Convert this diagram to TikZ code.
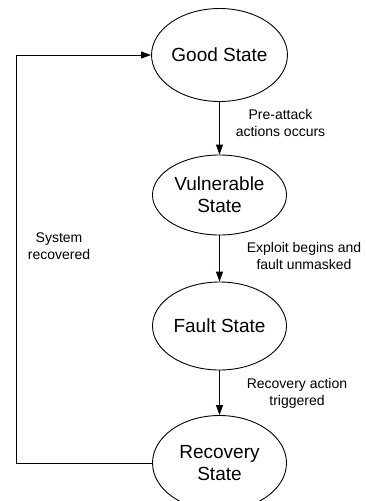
\documentclass[tikz,border=0pt]{standalone}
\usepackage{fontspec}
\setmainfont{Liberation Sans}
\usetikzlibrary{shapes.geometric,arrows.meta}
\begin{document}
\begin{tikzpicture}[x=1pt,y=-1pt,
  statebox/.style={draw, ellipse, line width=0.9pt, inner sep=0pt,
    minimum width=134pt, align=center,
    font=\fontsize{19pt}{22pt}\selectfont},
  lbl/.style={align=center, font=\fontsize{14pt}{17pt}\selectfont},
  arr/.style={line width=0.9pt, -{Triangle[length=10pt,width=7pt]}}]
\clip (0,0) rectangle (367,501);
\fill[white] (0,0) rectangle (367,501);
\node[statebox, minimum height=93pt] (good) at (219.5,55) {Good State};
\node[statebox, minimum height=80pt] (vul) at (219.5,195) {Vulnerable\\State};
\node[statebox, minimum height=88pt] (fault) at (219.5,326) {Fault State};
\node[statebox, minimum height=95pt] (rec) at (219.5,463) {Recovery\\State};
\coordinate (cl) at (16,463);
\draw[arr] (good) -- (vul);
\draw[arr] (vul) -- (fault);
\draw[arr] (fault) -- (rec);
\draw[arr] (rec.west) -- (cl) |- (good.west);
\node[lbl] (l1) at (280.5,123) {Pre-attack\\actions occurs};
\node[lbl] (l2) at (304,256) {Exploit begins and\\fault unmasked};
\node[lbl] (l3) at (297,393.5) {Recovery action\\triggered};
\node[lbl] (l4) at (59,246.5) {System\\recovered};
\end{tikzpicture}
\end{document}
